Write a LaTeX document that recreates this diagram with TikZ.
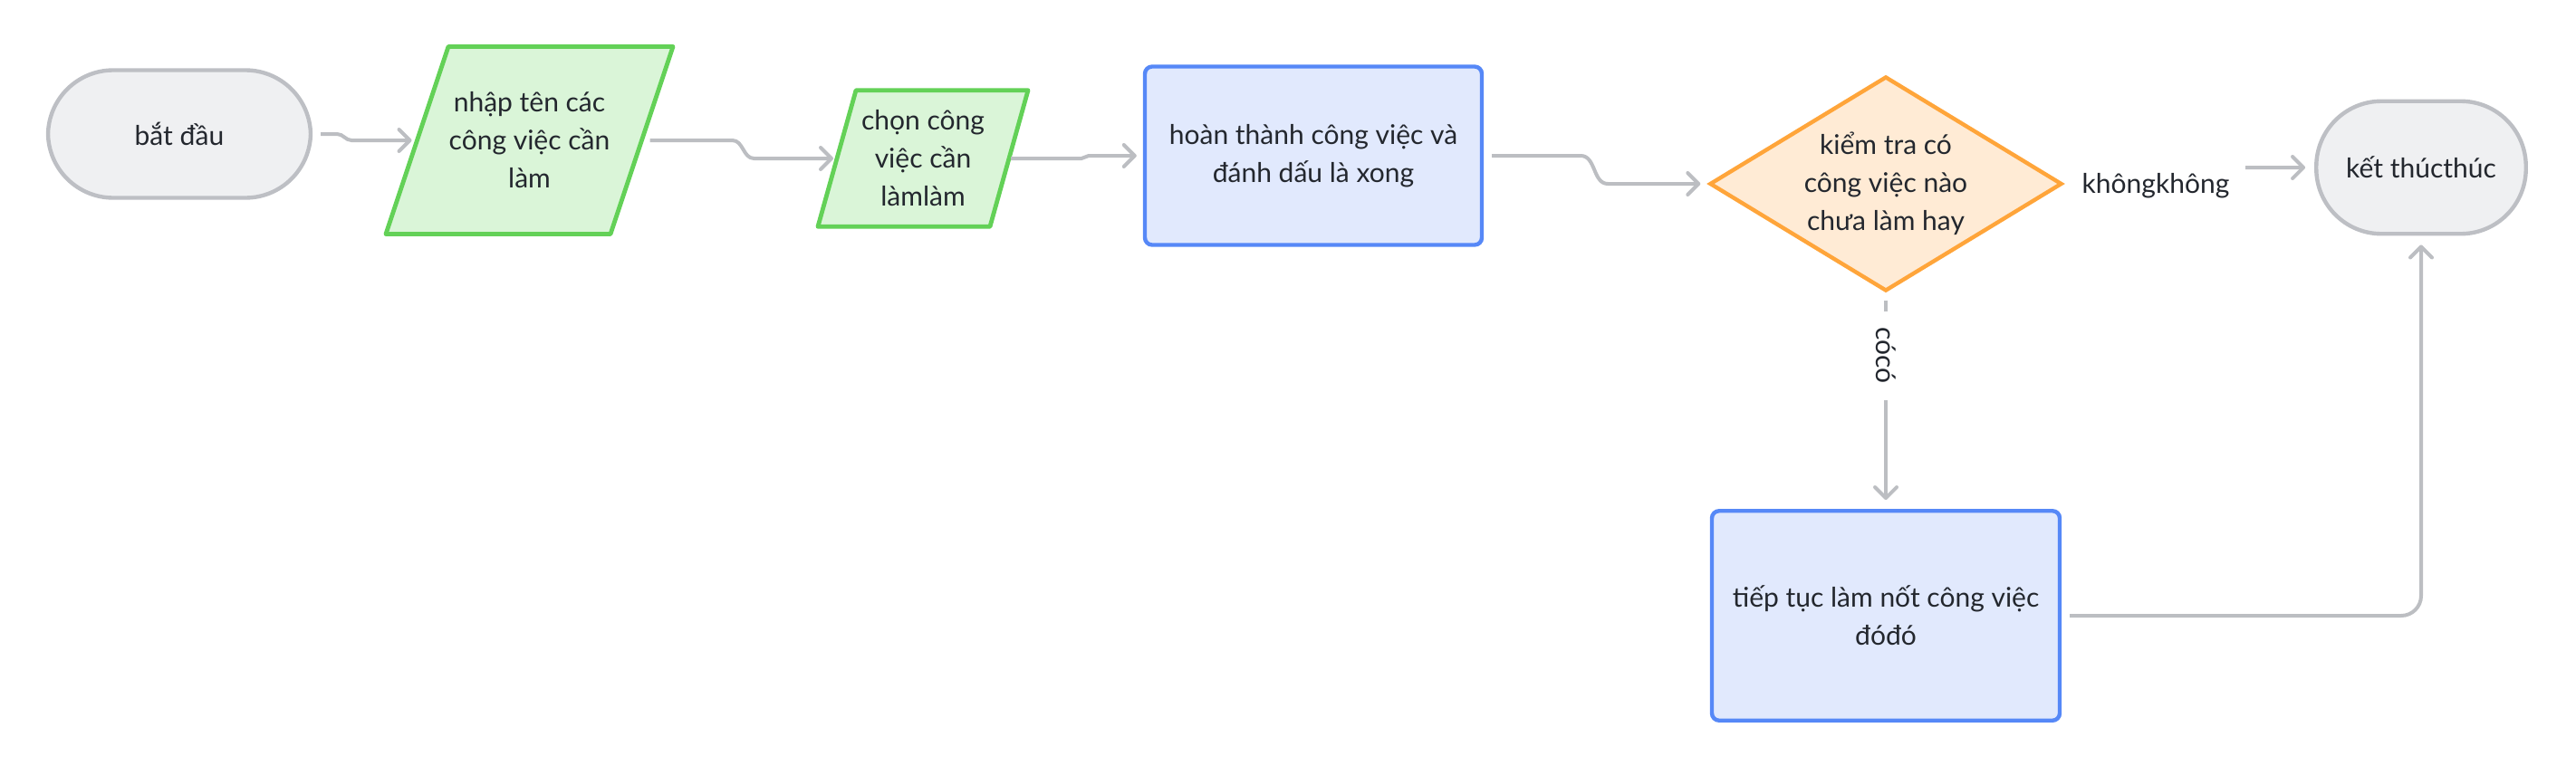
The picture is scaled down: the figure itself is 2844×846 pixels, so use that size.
\documentclass[tikz,border=0pt]{standalone}
\usepackage{fontspec}
\setmainfont{Lato}
\usepackage{tikz}
\usetikzlibrary{shapes.geometric,arrows.meta,backgrounds}
\definecolor{edge}{HTML}{BCBEC2}
\definecolor{termfill}{HTML}{EFF0F2}
\definecolor{termline}{HTML}{BDBFC4}
\definecolor{iofill}{HTML}{DAF5D8}
\definecolor{ioline}{HTML}{63D157}
\definecolor{procfill}{HTML}{E1E9FD}
\definecolor{procline}{HTML}{5688F7}
\definecolor{decfill}{HTML}{FFEBD5}
\definecolor{decline}{HTML}{FFA53A}
\definecolor{ink}{HTML}{23272E}

\begin{document}
\begin{tikzpicture}[x={(0.5pt,0)},y={(0,-0.5pt)},
    every node/.style={font=\fontsize{15pt}{21pt}\selectfont,text=ink,align=center},
    term/.style={rectangle,rounded corners=36pt,draw=termline,fill=termfill,line width=2.2pt},
    io/.style={rectangle,inner sep=0pt,outer sep=0pt},
    iobox/.style={draw=ioline,fill=iofill,line width=2.4pt,line join=round},
    proc/.style={rectangle,rounded corners=4pt,draw=procline,fill=procfill,line width=2.2pt},
    dec/.style={diamond,draw=decline,fill=decfill,line width=2.2pt,inner sep=0pt,shape aspect=1.66},
    flow/.style={draw=edge,line width=2pt,-{Straight Barb[length=6pt,width=12pt,round]}},
    lbl/.style={fill=white,inner xsep=9pt,inner ysep=4pt}]
\useasboundingbox (0,0) rectangle (2844,846);
\node[term,minimum width=145pt,minimum height=70.5pt] (start) at (198,148) {bắt đầu};
\node[io,minimum width=124pt,minimum height=103.5pt] (input) at (584.5,155) {nhập tên các\\công việc cần\\làm};
\node[io,minimum width=95pt,minimum height=75.25pt] (pick) at (1019,175) {chọn công\\việc cần\\làmlàm};
\node[proc,minimum width=186pt,minimum height=98.5pt] (done) at (1450,172) {hoàn thành công việc và\\đánh dấu là xong};
\node[dec,minimum width=194.5pt,minimum height=118.5pt] (chk) at (2082,203) {kiểm tra có\\công việc nào\\chưa làm hay};
\node[term,minimum width=115.75pt,minimum height=73.25pt] (stop) at (2673,185) {kết thúcthúc};
\node[proc,minimum width=192pt,minimum height=115.75pt] (work) at (2082,680) {tiếp tục làm nốt công việc\\đóđó};
\begin{scope}[on background layer]
\foreach \n/\s in {input/17.25pt,pick/10.5pt}
  \draw[iobox] ([xshift=\s]\n.north west) -- ([xshift=\s]\n.north east) -- ([xshift=-\s]\n.south east) -- ([xshift=-\s]\n.south west) -- cycle;
\end{scope}
\draw[flow,shorten <=4.5pt,shorten >=3pt] (start.east) -- ++(27,0) to[out=0,in=180] ++(16,7) -- (input.west);
\draw[flow,shorten <=4.5pt,shorten >=2pt] (input.east) -- ++(100,0) to[out=0,in=180] ++(24,20) -- (pick.west);
\draw[flow,shorten <=1pt,shorten >=3.5pt] (pick.east) -- ++(80,0) to[out=0,in=180] ++(8,-3) -- (done.west);
\draw[flow,shorten <=4.5pt,shorten >=4pt] (done.east) -- ++(107,0) to[out=0,in=180] ++(30,31) -- (chk.west);
\draw[flow,shorten <=6pt,shorten >=5pt] (chk.east) -- ++(180,0) to[out=0,in=180] ++(20,-18) -- (stop.west);
\node[lbl] (no) at (2380,205) {khôngkhông};
\draw[flow,shorten <=4pt,shorten >=5pt] (chk.south) -- node[lbl,pos=0.29,rotate=-90] (yes) {cócó} (work.north);
\draw[flow,rounded corners=11pt,shorten <=4.5pt,shorten >=5pt] (work.east) -| (stop.south);
\end{tikzpicture}
\end{document}
